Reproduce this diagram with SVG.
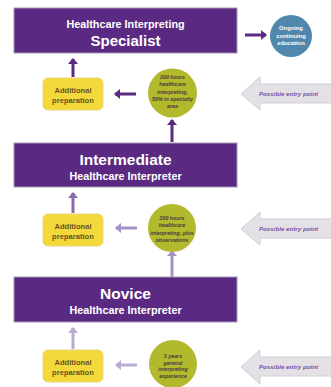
<svg xmlns="http://www.w3.org/2000/svg" width="331" height="387" viewBox="0 0 331 387">
<style>
.box{fill:#5a2a82;stroke:#a597b8;stroke-width:1}
.t1{font-family:"Liberation Sans",Arial,sans-serif;font-weight:bold;fill:#ffffff;text-anchor:middle}
.prep{fill:#f3d93b;stroke:#e9d47a;stroke-width:1}
.pt{font-family:"Liberation Sans",Arial,sans-serif;font-weight:bold;font-size:7.6px;fill:#6a5420;text-anchor:middle}
.hrs{fill:#b2b92c}
.ht{font-family:"Liberation Sans",Arial,sans-serif;font-weight:bold;font-style:italic;font-size:5.3px;fill:#4a3a42;text-anchor:middle}
.entry{fill:#e3e1e6;stroke:#d2ced6;stroke-width:1}
.et{font-family:"Liberation Sans",Arial,sans-serif;font-weight:bold;font-style:italic;font-size:6.2px;fill:#7a52a6;text-anchor:middle}
.ed{font-family:"Liberation Sans",Arial,sans-serif;font-weight:bold;font-size:5.8px;fill:#ffffff;text-anchor:middle}
.a1{stroke:#5b2a82;stroke-width:3;fill:none;marker-end:url(#m1)}
.a2{stroke:#8a6cae;stroke-width:3;fill:none;marker-end:url(#m2)}
.a3{stroke:#a792c6;stroke-width:3;fill:none;marker-end:url(#m3)}
.a4{stroke:#b9abd1;stroke-width:3;fill:none;marker-end:url(#m4)}
</style>
<defs>
<marker id="m1" viewBox="0 0 6 10" refX="5" refY="5" markerWidth="6" markerHeight="10" markerUnits="userSpaceOnUse" orient="auto"><path d="M0,0 L6,5 L0,10 z" fill="#5b2a82"/></marker>
<marker id="m2" viewBox="0 0 6 10" refX="5" refY="5" markerWidth="6" markerHeight="10" markerUnits="userSpaceOnUse" orient="auto"><path d="M0,0 L6,5 L0,10 z" fill="#8a6cae"/></marker>
<marker id="m3" viewBox="0 0 6 10" refX="5" refY="5" markerWidth="6" markerHeight="10" markerUnits="userSpaceOnUse" orient="auto"><path d="M0,0 L6,5 L0,10 z" fill="#a792c6"/></marker>
<marker id="m4" viewBox="0 0 6 10" refX="5" refY="5" markerWidth="6" markerHeight="10" markerUnits="userSpaceOnUse" orient="auto"><path d="M0,0 L6,5 L0,10 z" fill="#b9abd1"/></marker>
</defs>
<rect width="331" height="387" fill="#ffffff"/>

<g id="connectors">
<path class="a1" d="M245,35 H266"/>
<path class="a1" d="M73,77 V59"/>
<path class="a1" d="M136,94 H115"/>
<path class="a1" d="M172,142 V120"/>
<path class="a2" d="M73,213 V193"/>
<path class="a3" d="M137,228 H116"/>
<path class="a3" d="M172,277 V251"/>
<path class="a4" d="M73,349 V328"/>
<path class="a4" d="M137,365 H116"/>
</g>

<g id="specialist">
<rect class="box" x="14" y="8" width="223" height="45"/>
<text class="t1" x="125.5" y="28" font-size="10.8">Healthcare Interpreting</text>
<text class="t1" x="125.5" y="46" font-size="15">Specialist</text>
</g>
<g id="education">
<circle cx="291" cy="36" r="21" fill="#4f87ad"/>
<text class="ed" x="291" y="30">Ongoing</text>
<text class="ed" x="291" y="37.5">continuing</text>
<text class="ed" x="291" y="45">education</text>
</g>
<g id="prep1">
<rect class="prep" x="43" y="78" width="60" height="32" rx="5"/>
<text class="pt" x="73" y="92.5">Additional</text>
<text class="pt" x="73" y="102.5">preparation</text>
</g>
<g id="hours1">
<circle class="hrs" cx="172.5" cy="93" r="24.5"/>
<text class="ht" x="172.5" y="79">200 hours</text>
<text class="ht" x="172.5" y="86">healthcare</text>
<text class="ht" x="172.5" y="93.5">interpreting,</text>
<text class="ht" x="172.5" y="101">50% in specialty</text>
<text class="ht" x="172.5" y="108">area</text>
</g>
<g id="entry1">
<polygon class="entry" points="241,94 260,77 260,84 332,84 332,103 260,103 260,110"/>
<text class="et" x="288.5" y="96">Possible entry point</text>
</g>

<g id="intermediate">
<rect class="box" x="14" y="143" width="223" height="44"/>
<text class="t1" x="125.5" y="165" font-size="15.5">Intermediate</text>
<text class="t1" x="125.5" y="180" font-size="10.8">Healthcare Interpreter</text>
</g>
<g id="prep2">
<rect class="prep" x="43" y="214" width="60" height="32" rx="5"/>
<text class="pt" x="73" y="228.5">Additional</text>
<text class="pt" x="73" y="238.5">preparation</text>
</g>
<g id="hours2">
<circle class="hrs" cx="172" cy="228" r="24"/>
<text class="ht" x="172" y="220">200 hours</text>
<text class="ht" x="172" y="227">healthcare</text>
<text class="ht" x="172" y="234.5">interpreting, plus</text>
<text class="ht" x="172" y="241.5">observations</text>
</g>
<g id="entry2">
<polygon class="entry" points="241,229 260,212 260,219 332,219 332,238 260,238 260,245"/>
<text class="et" x="288.5" y="231">Possible entry point</text>
</g>

<g id="novice">
<rect class="box" x="14" y="277" width="223" height="45"/>
<text class="t1" x="125.5" y="299" font-size="15.5">Novice</text>
<text class="t1" x="125.5" y="314" font-size="10.8">Healthcare Interpreter</text>
</g>
<g id="prep3">
<rect class="prep" x="43" y="350" width="60" height="32" rx="5"/>
<text class="pt" x="73" y="364.5">Additional</text>
<text class="pt" x="73" y="374.5">preparation</text>
</g>
<g id="hours3">
<circle class="hrs" cx="173" cy="364" r="24"/>
<text class="ht" x="173" y="358">3 years</text>
<text class="ht" x="173" y="364.5">general</text>
<text class="ht" x="173" y="371">interpreting</text>
<text class="ht" x="173" y="377.5">experience</text>
</g>
<g id="entry3">
<polygon class="entry" points="241,367 260,350 260,357 332,357 332,376 260,376 260,384"/>
<text class="et" x="288.5" y="369">Possible entry point</text>
</g>
</svg>
